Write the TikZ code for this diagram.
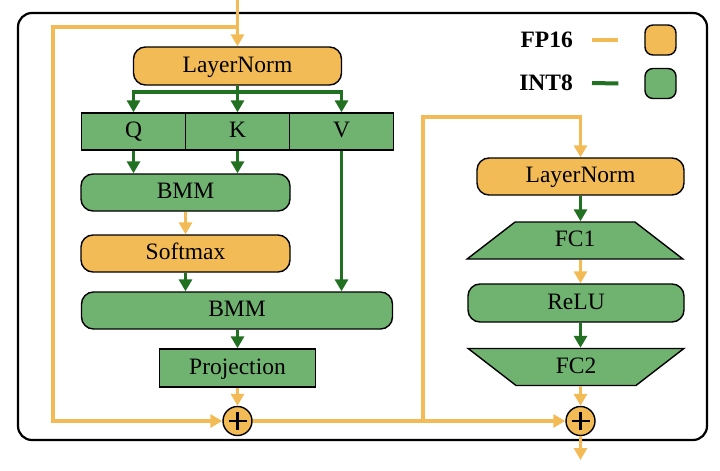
\documentclass[tikz,border=0pt]{standalone}
\usepackage{fontspec}
\setmainfont{Liberation Serif}
\usetikzlibrary{arrows.meta,shapes.geometric}

\definecolor{fporange}{RGB}{243,187,85}
\definecolor{intgreen}{RGB}{112,179,112}
\definecolor{intdark}{RGB}{34,112,34}

\tikzset{
    box/.style={draw=black,line width=1.4pt,inner sep=0pt,text height=16pt,text depth=4pt,
        font=\fontsize{23.5}{28}\selectfont},
    fpbox/.style={box,fill=fporange,rounded corners=12pt},
    intbox/.style={box,fill=intgreen,rounded corners=12pt},
    intrect/.style={box,fill=intgreen},
    fctrap/.style={box,fill=intgreen,trapezium,trapezium left angle=51,trapezium right angle=51,
        trapezium stretches=true,minimum width=216pt,minimum height=37pt},
    adder/.style={circle,draw=black,line width=1.4pt,fill=fporange,minimum size=29pt,inner sep=0pt,
        path picture={
            \draw[black,line width=2.4pt] ([xshift=-9pt]path picture bounding box.center) -- ([xshift=9pt]path picture bounding box.center);
            \draw[black,line width=2.4pt] ([yshift=-9pt]path picture bounding box.center) -- ([yshift=9pt]path picture bounding box.center);
        }},
    legend/.style={inner sep=0pt,font=\fontsize{23.5}{28}\selectfont\bfseries},
    fpline/.style={draw=fporange,line width=3.6pt},
    intline/.style={draw=intdark,line width=3.2pt},
    fparrow/.style={fpline,-{Triangle[length=12pt,width=13pt]}},
    intarrow/.style={intline,-{Triangle[length=12pt,width=13pt]}}
}

\begin{document}
\begin{tikzpicture}[x=1pt,y=-1pt]
    \useasboundingbox (0,0) rectangle (720,471);
    \draw[line width=2.2pt,rounded corners=14pt] (18,13) rectangle (707,440);

    \node[fpbox,minimum width=208pt,minimum height=38pt] (ln1) at (237.5,66) {LayerNorm};
    \node[intrect,minimum width=104pt,minimum height=37pt] (q) at (133.5,131.5) {Q};
    \node[intrect,minimum width=104pt,minimum height=37pt] (k) at (237.5,131.5) {K};
    \node[intrect,minimum width=104pt,minimum height=37pt] (v) at (341.5,131.5) {V};
    \node[intbox,minimum width=209pt,minimum height=37pt] (bmm1) at (185.5,192.5) {BMM};
    \node[fpbox,minimum width=209pt,minimum height=37pt] (softmax) at (185.5,253.5) {Softmax};
    \node[intbox,minimum width=311pt,minimum height=37pt] (bmm2) at (237,310.5) {BMM};
    \node[intrect,minimum width=156pt,minimum height=38pt] (proj) at (237.5,368) {Projection};
    \node[adder] (plus1) at (237.5,421) {};

    \node[fpbox,minimum width=207pt,minimum height=37pt] (ln2) at (580.5,176.5) {LayerNorm};
    \node[fctrap] (fc1) at (575,240.5) {FC1};
    \node[intbox,minimum width=216pt,minimum height=38pt] (relu) at (576,303) {ReLU};
    \node[fctrap,shape border rotate=180] (fc2) at (576,367) {FC2};
    \node[adder] (plus2) at (580.5,421) {};

    \node[legend,anchor=east] (fp) at (573,40) {FP16};
    \node[legend,anchor=east] (int) at (573,83) {INT8};
    \node[fpbox,minimum width=31pt,minimum height=30pt,rounded corners=8pt] (fpkey) at (660.5,40) {};
    \node[intbox,minimum width=31pt,minimum height=30pt,rounded corners=8pt] (intkey) at (660.5,83.5) {};
    \draw[fpline,line width=4pt] ([xshift=19pt]fp.east) -- ([xshift=-26pt]fpkey.west);
    \draw[intline,line width=4pt] ([xshift=19pt]int.east) -- ([xshift=-26pt]intkey.west);

    \coordinate (in) at (237.5,0);
    \coordinate (split1) at (237.5,27);
    \coordinate (res1) at (53,27);
    \coordinate (qkvsplit) at (237.5,92);
    \coordinate (split2) at (423,421);
    \coordinate (res2) at (423,117);
    \coordinate (out) at (580.5,460);

    \draw[fparrow] (in) -- (ln1.north);
    \draw[fparrow] (split1) -- (res1) |- (plus1.west);
    \draw[intarrow] (ln1.south) -- (k.north);
    \draw[intarrow] (qkvsplit) -| (q.north);
    \draw[intarrow] (qkvsplit) -| (v.north);
    \draw[intarrow] (q.south) -- (q.south |- bmm1.north);
    \draw[intarrow] (k.south) -- (k.south |- bmm1.north);
    \draw[fparrow] (bmm1.south) -- (softmax.north);
    \draw[intarrow] (softmax.south) -- (softmax.south |- bmm2.north);
    \draw[intarrow] (v.south) -- (v.south |- bmm2.north);
    \draw[intarrow] (proj.north |- bmm2.south) -- (proj.north);
    \draw[fparrow] (proj.south) -- (plus1.north);

    \draw[fparrow] (plus1.east) -- (plus2.west);
    \draw[fparrow] (split2) -- (res2) -| (ln2.north);
    \draw[intarrow] (ln2.south) -- (ln2.south |- fc1.north);
    \draw[fparrow] (ln2.south |- fc1.south) -- (ln2.south |- relu.north);
    \draw[intarrow] (ln2.south |- relu.south) -- (ln2.south |- fc2.north);
    \draw[fparrow] (ln2.south |- fc2.south) -- (plus2.north);
    \draw[fparrow] (plus2.south) -- (out);
\end{tikzpicture}
\end{document}
